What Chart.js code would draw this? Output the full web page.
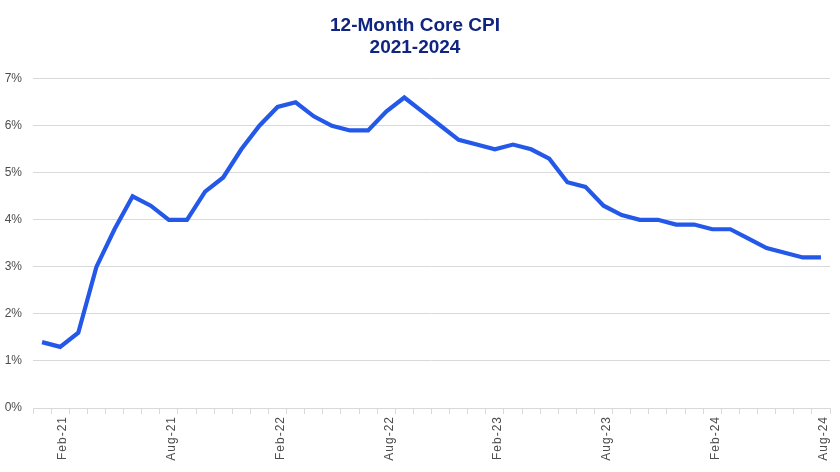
<!DOCTYPE html>
<html>
<head>
<meta charset="utf-8">
<script src="https://cdn.jsdelivr.net/npm/chart.js@4.4.1/dist/chart.umd.min.js"></script>
<style>
  html, body { margin: 0; padding: 0; background: #ffffff; }
  #wrap { width: 840px; height: 472px; }
</style>
</head>
<body>
<div id="wrap"><canvas id="c" width="840" height="472"></canvas></div>
<script>
const months = [
  'Jan-21','Feb-21','Mar-21','Apr-21','May-21','Jun-21','Jul-21','Aug-21','Sep-21','Oct-21','Nov-21','Dec-21',
  'Jan-22','Feb-22','Mar-22','Apr-22','May-22','Jun-22','Jul-22','Aug-22','Sep-22','Oct-22','Nov-22','Dec-22',
  'Jan-23','Feb-23','Mar-23','Apr-23','May-23','Jun-23','Jul-23','Aug-23','Sep-23','Oct-23','Nov-23','Dec-23',
  'Jan-24','Feb-24','Mar-24','Apr-24','May-24','Jun-24','Jul-24','Aug-24'
];
const coreCPI = [
  1.4, 1.3, 1.6, 3.0, 3.8, 4.5, 4.3, 4.0, 4.0, 4.6, 4.9, 5.5,
  6.0, 6.4, 6.5, 6.2, 6.0, 5.9, 5.9, 6.3, 6.6, 6.3, 6.0, 5.7,
  5.6, 5.5, 5.6, 5.5, 5.3, 4.8, 4.7, 4.3, 4.1, 4.0, 4.0, 3.9,
  3.9, 3.8, 3.8, 3.6, 3.4, 3.3, 3.2, 3.2
];
const shownLabels = ['Feb-21','Aug-21','Feb-22','Aug-22','Feb-23','Aug-23','Feb-24','Aug-24'];
const titleLines = ['12-Month Core CPI', '2021-2024'];

const chart = new Chart(document.getElementById('c'), {
  type: 'line',
  data: {
    labels: months,
    datasets: [{
      data: coreCPI,
      borderColor: '#2358e8',
      borderWidth: 4.2,
      pointRadius: 0,
      tension: 0,
      fill: false
    }]
  },
  options: {
    responsive: false,
    animation: false,
    layout: { padding: { left: 0, right: 10, top: 8, bottom: 0 } },
    plugins: {
      legend: { display: false },
      tooltip: { enabled: false },
      title: {
        display: true,
        text: titleLines,
        color: '#0f2580',
        font: { family: 'Liberation Sans, Arial, sans-serif', size: 19, weight: 'bold', lineHeight: 1.15 },
        padding: { top: 7, bottom: 20 }
      }
    },
    scales: {
      x: {
        type: 'category',
        offset: true,
        afterFit: s => { s.height = 64; },
        grid: {
          offset: true,
          drawOnChartArea: false,
          drawTicks: true,
          tickLength: 6,
          color: '#d9d9d9'
        },
        border: { display: true, color: '#d9d9d9', width: 1 },
        ticks: {
          autoSkip: false,
          maxRotation: 90,
          minRotation: 90,
          padding: 2,
          labelOffset: 3,
          color: '#4d4d4d',
          font: { family: 'Liberation Sans, Arial, sans-serif', size: 12 },
          callback: function(v, i) {
            const l = months[i];
            return shownLabels.includes(l) ? l : '';
          }
        }
      },
      y: {
        min: 0,
        max: 7,
        afterFit: s => { s.width = 33; },
        grid: { color: '#d9d9d9', drawTicks: false, lineWidth: 1 },
        border: { display: false },
        ticks: {
          stepSize: 1,
          padding: 11,
          color: '#4d4d4d',
          font: { family: 'Liberation Sans, Arial, sans-serif', size: 12 },
          callback: v => v + '%'
        }
      }
    }
  }
});

// letter-spaced x-axis labels, as in the reference
const xs = chart.scales.x;
const origDrawLabels = xs.drawLabels.bind(xs);
xs.drawLabels = function(area) {
  const ctx = this.ctx;
  const prev = ctx.letterSpacing;
  ctx.letterSpacing = '1px';
  origDrawLabels(area);
  ctx.letterSpacing = prev || '0px';
};
chart.draw();
</script>
</body>
</html>
